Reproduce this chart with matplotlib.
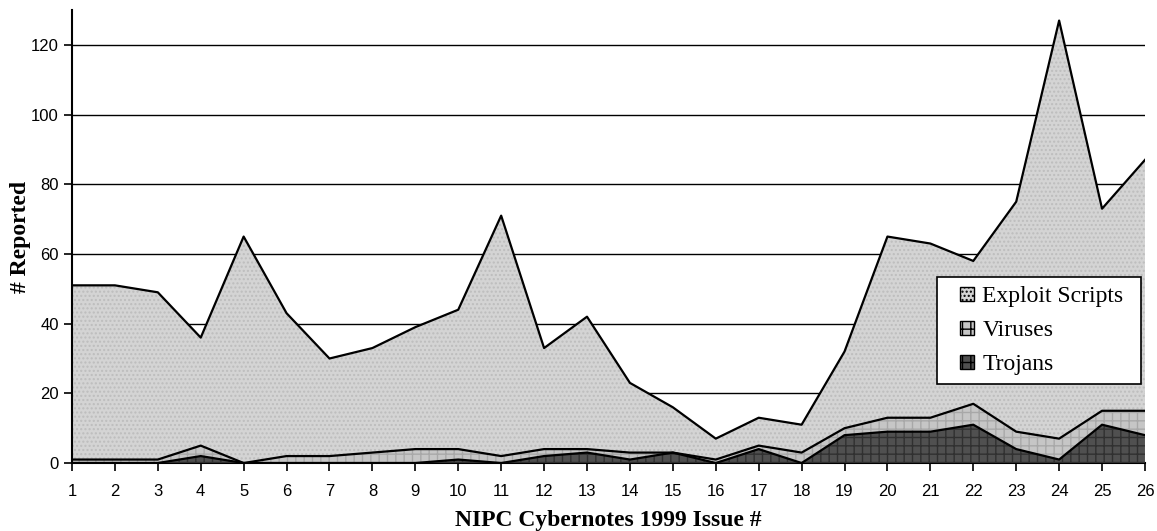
import matplotlib.pyplot as plt
import numpy as np
from matplotlib.patches import Rectangle
from matplotlib.legend_handler import HandlerPatch

# NIPC Cybernotes 1999, reported items per issue
issues = list(range(1, 27))
trojans = [0, 0, 0, 2, 0, 0, 0, 0, 0, 1, 0, 2, 3, 1, 3, 0, 4, 0, 8, 9, 9, 11, 4, 1, 11, 8]
viruses = [1, 1, 1, 3, 0, 2, 2, 3, 4, 3, 2, 2, 1, 2, 0, 1, 1, 3, 2, 4, 4, 6, 5, 6, 4, 7]
totals = [51, 51, 49, 36, 65, 43, 30, 33, 39, 44, 71, 33, 42, 23, 16, 7, 13, 11,
          32, 65, 63, 58, 75, 127, 73, 87]
exploits = [t - a - b for t, a, b in zip(totals, trojans, viruses)]

y_ticks = [0, 20, 40, 60, 80, 100, 120]


def small_square(legend, orig_handle, xdescent, ydescent, width, height, fontsize):
    # little square sitting at the right end of the handle box
    s = height * 0.95
    return Rectangle((width - xdescent - s, -ydescent + (height - s) / 2), s, s)


fig = plt.figure(figsize=(11.57, 5.31), dpi=100)
ax = fig.add_axes([0.0622, 0.128, 0.9274, 0.853])

x = np.array(issues)
lvl1 = np.array(trojans)
lvl2 = lvl1 + np.array(viruses)
lvl3 = lvl2 + np.array(exploits)

for y in y_ticks[1:]:
    ax.axhline(y, color="black", lw=1.0, zorder=0)

styles = {
    "Exploit Scripts": dict(facecolor="#d4d4d4", edgecolor="#bdbdbd", hatch="...."),
    "Viruses": dict(facecolor="#c6c6c6", edgecolor="#a8a8a8", hatch="++"),
    "Trojans": dict(facecolor="#505050", edgecolor="#303030", hatch="++"),
}
ax.fill_between(x, lvl2, lvl3, lw=0, zorder=1, **styles["Exploit Scripts"])
ax.fill_between(x, lvl1, lvl2, lw=0, zorder=2, **styles["Viruses"])
ax.fill_between(x, 0, lvl1, lw=0, zorder=3, **styles["Trojans"])
for lv in (lvl1, lvl2, lvl3):
    ax.plot(x, lv, color="black", lw=1.6, zorder=4)

ax.set_xlim(1, 26)
ax.set_ylim(0, 130)
ax.set_xticks(issues)
ax.set_yticks(y_ticks)
ax.tick_params(direction="out", length=6, width=1.2, labelsize=12, colors="black")
ax.tick_params(axis="x", pad=9)
for lab in ax.get_xticklabels() + ax.get_yticklabels():
    lab.set_family("Liberation Sans")
ax.spines["top"].set_visible(False)
ax.spines["right"].set_visible(False)
ax.spines["left"].set_linewidth(1.5)
ax.spines["bottom"].set_linewidth(1.5)

ax.set_xlabel("NIPC Cybernotes 1999 Issue #", family="Liberation Serif",
              fontweight="bold", fontsize=17, labelpad=8)
ax.set_ylabel("# Reported", family="Liberation Serif", fontweight="bold",
              fontsize=17, labelpad=0)

handles = []
for name, st in styles.items():
    r = Rectangle((0, 0), 1, 1, facecolor=st["facecolor"], hatch=st["hatch"],
                  edgecolor="black", lw=1.0, label=name)
    handles.append(r)
hmap = {Rectangle: HandlerPatch(patch_func=small_square)}
leg = ax.legend(handles=handles, loc="upper left", mode="expand",
                bbox_to_anchor=(0.806, 0.0, 0.190, 0.41), frameon=True, fancybox=False,
                prop={"family": "Liberation Serif", "size": 17},
                handler_map=hmap,
                handlelength=1.2, handleheight=0.6, handletextpad=0.35,
                borderpad=0.38, labelspacing=0.55, borderaxespad=0)
leg.get_frame().set_edgecolor("black")
leg.get_frame().set_linewidth(1.2)
leg.get_frame().set_alpha(1)
leg.set_zorder(10)

plt.savefig("out.png", dpi=100)
